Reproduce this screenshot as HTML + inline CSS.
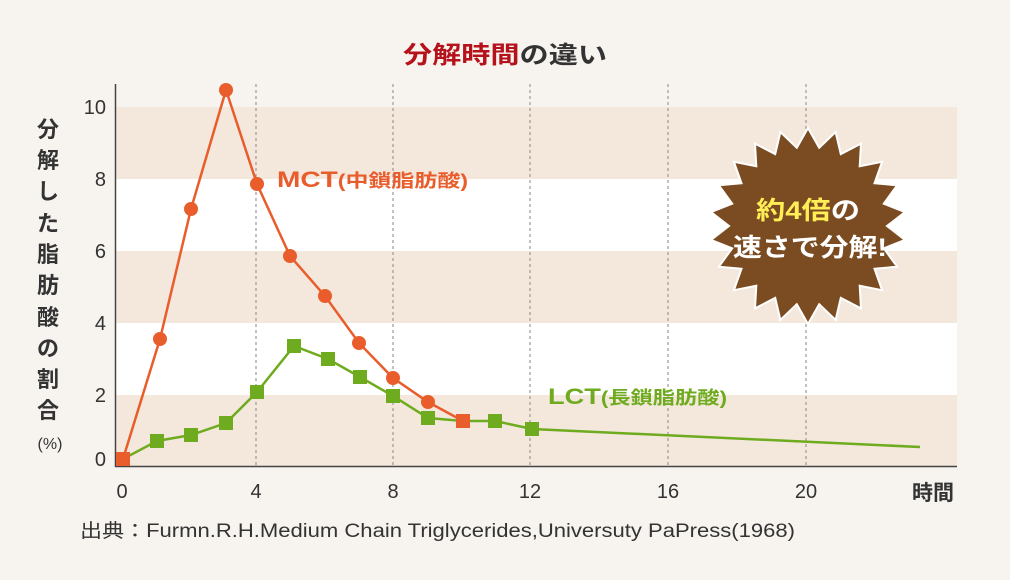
<!DOCTYPE html>
<html><head><meta charset="utf-8"><style>
body{margin:0;background:#f7f4ef;}
svg{display:block;font-family:"Liberation Sans","Noto Sans CJK JP",sans-serif;}
</style></head><body>
<svg width="1010" height="580" viewBox="0 0 1010 580">
<rect width="1010" height="580" fill="#f7f4ef"/>
<rect x="116" y="107" width="841" height="72" fill="#f4e8dc"/>
<rect x="116" y="179" width="841" height="72" fill="#ffffff"/>
<rect x="116" y="251" width="841" height="72" fill="#f4e8dc"/>
<rect x="116" y="323" width="841" height="72" fill="#ffffff"/>
<rect x="116" y="395" width="841" height="72" fill="#f4e8dc"/>
<g stroke="#999" stroke-width="1.2" stroke-dasharray="3,3">
<line x1="256" y1="84" x2="256" y2="467"/><line x1="393" y1="84" x2="393" y2="467"/><line x1="530" y1="84" x2="530" y2="467"/><line x1="668" y1="84" x2="668" y2="467"/><line x1="806" y1="84" x2="806" y2="467"/>
</g>
<line x1="115.5" y1="84" x2="115.5" y2="467" stroke="#444" stroke-width="1.5"/>
<line x1="115" y1="466.5" x2="957" y2="466.5" stroke="#444" stroke-width="1.5"/>
<g font-size="20" fill="#333" text-anchor="end">
<text x="106" y="114">10</text><text x="106" y="186">8</text><text x="106" y="258">6</text><text x="106" y="330">4</text><text x="106" y="402">2</text><text x="106" y="466">0</text>
</g>
<g font-size="20" fill="#333" text-anchor="middle">
<text x="122" y="498">0</text><text x="256" y="498">4</text><text x="393" y="498">8</text><text x="530" y="498">12</text><text x="668" y="498">16</text><text x="806" y="498">20</text>
</g>
<text x="933" y="500" font-size="21" font-weight="bold" fill="#333" text-anchor="middle">時間</text>
<g font-size="22" font-weight="bold" fill="#333" text-anchor="middle">
<text x="48" y="137">分</text><text x="48" y="168">解</text><text x="48" y="199">し</text><text x="48" y="231">た</text><text x="48" y="262">脂</text><text x="48" y="293">肪</text><text x="48" y="325">酸</text><text x="48" y="356">の</text><text x="48" y="387">割</text><text x="48" y="418">合</text>
</g>
<text x="50" y="449" font-size="16" fill="#333" text-anchor="middle">(%)</text>
<text x="403" y="63" font-size="24" font-weight="bold" textLength="204" lengthAdjust="spacingAndGlyphs"><tspan fill="#b5121b">分解時間</tspan><tspan fill="#333">の違い</tspan></text>
<text x="80" y="537" font-size="19" fill="#333" textLength="715" lengthAdjust="spacingAndGlyphs">出典：Furmn.R.H.Medium Chain Triglycerides,Universuty PaPress(1968)</text>
<polyline fill="none" stroke="#e95d2c" stroke-width="2.5" points="123,459 160,339 191,209 226,90 257,184 290,256 325,296 359,343 393,378 428,402 463,421"/>
<g fill="#e95d2c">
<circle cx="160" cy="339" r="7"/><circle cx="191" cy="209" r="7"/><circle cx="226" cy="90" r="7"/><circle cx="257" cy="184" r="7"/><circle cx="290" cy="256" r="7"/><circle cx="325" cy="296" r="7"/><circle cx="359" cy="343" r="7"/><circle cx="393" cy="378" r="7"/><circle cx="428" cy="402" r="7"/>
</g>
<polyline fill="none" stroke="#6fab1e" stroke-width="2.5" points="123,459 157,441 191,435 226,423 257,392 294,346 328,359 360,377 393,396 428,418 463,421 495,421 532,429 920,447"/>
<g fill="#6fab1e">
<rect x="150" y="434" width="14" height="14"/><rect x="184" y="428" width="14" height="14"/><rect x="219" y="416" width="14" height="14"/><rect x="250" y="385" width="14" height="14"/><rect x="287" y="339" width="14" height="14"/><rect x="321" y="352" width="14" height="14"/><rect x="353" y="370" width="14" height="14"/><rect x="386" y="389" width="14" height="14"/><rect x="421" y="411" width="14" height="14"/><rect x="488" y="414" width="14" height="14"/><rect x="525" y="422" width="14" height="14"/>
</g>
<rect x="116" y="452" width="14" height="14" fill="#e95d2c"/>
<rect x="456" y="414" width="14" height="14" fill="#e95d2c"/>
<text x="277" y="187" font-size="22" font-weight="bold" fill="#e95d2c" textLength="191" lengthAdjust="spacingAndGlyphs">MCT<tspan font-size="18">(中鎖脂肪酸)</tspan></text>
<text x="548" y="404" font-size="22" font-weight="bold" fill="#6fab1e" textLength="179" lengthAdjust="spacingAndGlyphs">LCT<tspan font-size="18">(長鎖脂肪酸)</tspan></text>
<polygon id="star" fill="#7b4c21" stroke="#fff" stroke-width="2" points=""/>
<script>
(function(){var p=[],cx=808,cy=226,n=22;for(var i=0;i<2*n;i++){var r=i%2?79:98;var a=Math.PI*i/n-Math.PI/2;p.push((cx+r*Math.cos(a)).toFixed(1)+","+(cy+r*Math.sin(a)).toFixed(1));}document.getElementById("star").setAttribute("points",p.join(" "));})();
</script>
<text x="756" y="219" font-size="25" font-weight="bold" textLength="104" lengthAdjust="spacingAndGlyphs"><tspan fill="#ffee55">約4倍</tspan><tspan fill="#fff">の</tspan></text>
<text x="733" y="256" font-size="25" font-weight="bold" fill="#fff" textLength="154" lengthAdjust="spacingAndGlyphs">速さで分解!</text>
</svg>
</body></html>
